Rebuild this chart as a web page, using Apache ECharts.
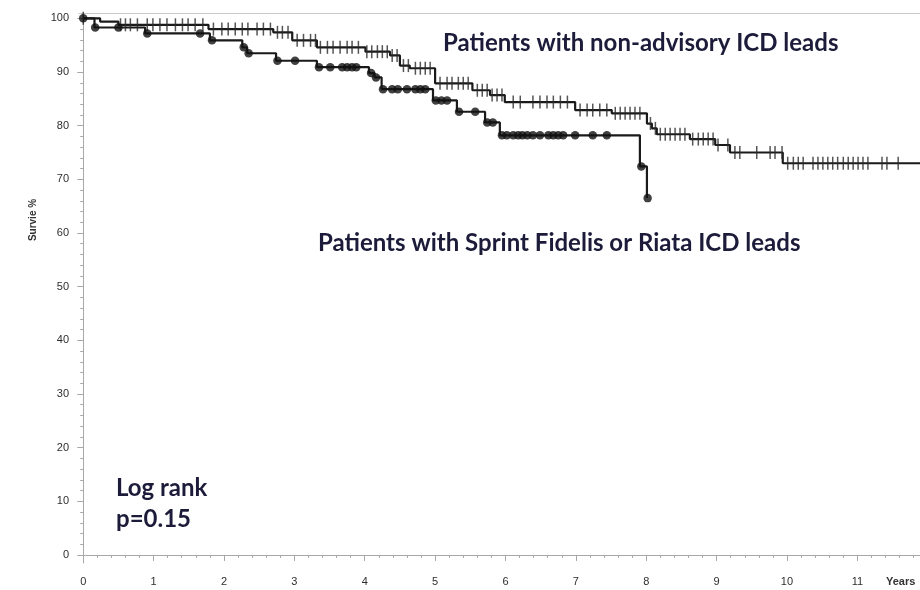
<!DOCTYPE html>
<html>
<head>
<meta charset="utf-8">
<script src="https://cdn.jsdelivr.net/npm/echarts@6/dist/echarts.min.js"></script>
<style>html,body{margin:0;padding:0;background:#fff}#c{width:920px;height:590px}</style>
</head>
<body>
<div id="c"></div>
<script>
// ---- Data (years, survival %) ----
const xTickLabels = [0,1,2,3,4,5,6,7,8,9,10,11];
const yTickLabels = [0,10,20,30,40,50,60,70,80,90,100];

// Patients with non-advisory ICD leads: step times and survival after each step
const nonAdvTimes = [0, 0.24, 0.50, 1.78, 2.70, 2.97, 3.32, 4.01, 4.36, 4.50, 4.64, 5.00, 5.53, 5.78, 5.99, 6.99, 7.51, 8.01, 8.08, 8.15, 8.62, 8.98, 9.19, 9.94];
const nonAdvSurv  = [100, 99.4, 98.8, 98.0, 97.4, 95.9, 94.6, 93.8, 93.1, 91.2, 90.7, 87.9, 86.6, 85.7, 84.4, 82.9, 82.3, 80.4, 79.5, 78.4, 77.5, 76.4, 75.0, 73.0];
// censored times (tick marks)
const nonAdvCensor = [0, 0.53, 0.60, 0.67, 0.77, 0.91, 0.99, 1.09, 1.19, 1.31, 1.41, 1.49, 1.59, 1.70, 1.85, 1.97, 2.06, 2.16, 2.26, 2.34, 2.47, 2.56, 2.66, 2.76, 2.83, 2.91, 3.04, 3.13, 3.23, 3.30, 3.37, 3.47, 3.55, 3.65, 3.75, 3.82, 3.91, 4.03, 4.10, 4.18, 4.25, 4.32, 4.39, 4.46, 4.55, 4.62, 4.72, 4.79, 4.86, 4.93, 5.07, 5.17, 5.24, 5.33, 5.40, 5.47, 5.60, 5.67, 5.74, 5.81, 5.88, 5.95, 6.11, 6.21, 6.39, 6.49, 6.59, 6.68, 6.78, 6.88, 7.06, 7.16, 7.24, 7.34, 7.44, 7.56, 7.63, 7.70, 7.77, 7.84, 7.91, 8.06, 8.13, 8.20, 8.27, 8.34, 8.41, 8.48, 8.55, 8.66, 8.74, 8.81, 8.88, 8.95, 9.02, 9.16, 9.26, 9.33, 9.57, 9.76, 9.83, 9.93, 10.01, 10.09, 10.16, 10.23, 10.37, 10.44, 10.51, 10.58, 10.65, 10.72, 10.80, 10.87, 10.94, 11.01, 11.08, 11.15, 11.35, 11.42, 11.58, 12.0];

// Patients with Sprint Fidelis or Riata ICD leads
const sprintTimes = [0, 0.16, 0.88, 1.80, 2.26, 2.33, 2.74, 3.32, 4.06, 4.14, 4.24, 4.97, 5.31, 5.71, 5.92, 7.91, 8.01];
const sprintSurv  = [100, 98.3, 97.2, 95.9, 94.6, 93.5, 92.1, 90.9, 89.8, 89.0, 86.8, 84.7, 82.6, 80.6, 78.2, 72.4, 66.5];
const sprintCensor = [0, 0.17, 0.50, 0.91, 1.66, 1.83, 2.28, 2.35, 2.76, 3.01, 3.35, 3.51, 3.68, 3.75, 3.82, 3.88, 4.09, 4.16, 4.26, 4.39, 4.47, 4.60, 4.72, 4.79, 4.86, 5.01, 5.09, 5.17, 5.34, 5.57, 5.74, 5.82, 5.95, 6.02, 6.11, 6.18, 6.24, 6.31, 6.39, 6.49, 6.61, 6.68, 6.75, 6.82, 6.99, 7.24, 7.44, 7.93, 8.02];

const labelNonAdv = 'Patients with non-advisory ICD leads';
const labelSprint = 'Patients with Sprint Fidelis or Riata ICD leads';
const logRankText = ['Log rank', 'p=0.15'];

// ---- Helpers ----
function survAt(times, vals, t) {
  let v = vals[0];
  for (let i = 0; i < times.length; i++) if (times[i] <= t) v = vals[i];
  return v;
}
function stepLine(times, vals, endT) {
  const d = times.map((t, i) => [t, vals[i]]);
  if (endT !== undefined && endT > times[times.length - 1]) d.push([endT, vals[vals.length - 1]]);
  return d;
}
function minorVals(a, b, s) { const r = []; for (let v = a; v <= b + 1e-9; v += s) r.push(+v.toFixed(3)); return r; }

const axisGray = '#a8a8a8';
const labelColor = '#2e2e2e';
const xMin = -0.06, xMax = 12.16, yMin = -1.5, yMax = 101;
const annFont = 'bold 24px Lato';
const annColor = '#1c1c3a';

const chart = echarts.init(document.getElementById('c'));
chart.setOption({
  animation: false,
  backgroundColor: '#fff',
  grid: { left: 79, top: 13, width: 860, height: 550, containLabel: false, outerBoundsMode: 'none' },
  xAxis: [
    { type: 'value', position: 'bottom', min: xMin, max: xMax,
      axisLine: { lineStyle: { color: axisGray, width: 1 } },
      axisTick: { show: true, inside: false, length: 6, customValues: xTickLabels, lineStyle: { color: axisGray } },
      axisLabel: { customValues: xTickLabels, color: labelColor, fontFamily: 'Liberation Sans', fontSize: 11, margin: 13 },
      splitLine: { show: false } },
    { type: 'value', position: 'bottom', min: xMin, max: xMax,
      axisLine: { show: false },
      axisTick: { show: true, length: 3, customValues: minorVals(0, 12, 0.2), lineStyle: { color: axisGray } },
      axisLabel: { show: false }, splitLine: { show: false } },
    { type: 'value', position: 'top', min: xMin, max: xMax,
      axisLine: { lineStyle: { color: '#c8c8c8', width: 1 } },
      axisTick: { show: false }, axisLabel: { show: false }, splitLine: { show: false } }
  ],
  yAxis: [
    { type: 'value', position: 'left', min: yMin, max: yMax,
      axisLine: { show: true, lineStyle: { color: axisGray, width: 1 } },
      axisTick: { show: true, length: 6, customValues: yTickLabels, lineStyle: { color: axisGray } },
      axisLabel: { customValues: yTickLabels, color: labelColor, fontFamily: 'Liberation Sans', fontSize: 11, margin: 10 },
      splitLine: { show: false } },
    { type: 'value', position: 'left', min: yMin, max: yMax,
      axisLine: { show: false },
      axisTick: { show: true, length: 3, customValues: minorVals(0, 100, 2), lineStyle: { color: axisGray } },
      axisLabel: { show: false }, splitLine: { show: false } }
  ],
  series: [
    { type: 'line', name: labelNonAdv, step: 'end', xAxisIndex: 0, yAxisIndex: 0,
      data: stepLine(nonAdvTimes, nonAdvSurv, nonAdvCensor[nonAdvCensor.length - 1]),
      showSymbol: false, symbol: 'none', lineStyle: { color: '#1a1a1a', width: 2.2 }, z: 3 },
    { type: 'scatter', xAxisIndex: 0, yAxisIndex: 0,
      data: nonAdvCensor.map(t => [t, survAt(nonAdvTimes, nonAdvSurv, t)]),
      symbol: 'rect', symbolSize: [1.5, 13], itemStyle: { color: '#2a2a2a' }, z: 4 },
    { type: 'line', name: labelSprint, step: 'end', xAxisIndex: 0, yAxisIndex: 0,
      data: stepLine(sprintTimes, sprintSurv),
      showSymbol: false, symbol: 'none', lineStyle: { color: '#1a1a1a', width: 2.2 }, z: 3 },
    { type: 'scatter', xAxisIndex: 0, yAxisIndex: 0,
      data: sprintCensor.map(t => [t, survAt(sprintTimes, sprintSurv, t)]),
      symbol: 'circle', symbolSize: 8.5, itemStyle: { color: '#111' }, z: 5 }
  ],
  graphic: [
    { type: 'text', left: 443, top: 31, style: { text: labelNonAdv, font: annFont, fill: annColor } },
    { type: 'text', left: 318, top: 231, style: { text: labelSprint, font: annFont, fill: annColor } },
    { type: 'text', left: 116, top: 476, style: { text: logRankText[0], font: annFont, fill: annColor } },
    { type: 'text', left: 116, top: 507, style: { text: logRankText[1], font: annFont, fill: annColor } },
    { type: 'text', left: 886, top: 576, style: { text: 'Years', font: 'bold 11px "Liberation Sans"', fill: '#333' } },
    { type: 'text', x: 33, y: 220, rotation: Math.PI / 2,
      style: { text: 'Survie %', font: 'bold 10px "Liberation Sans"', fill: '#333', align: 'center', verticalAlign: 'middle' } }
  ]
});
</script>
</body>
</html>
